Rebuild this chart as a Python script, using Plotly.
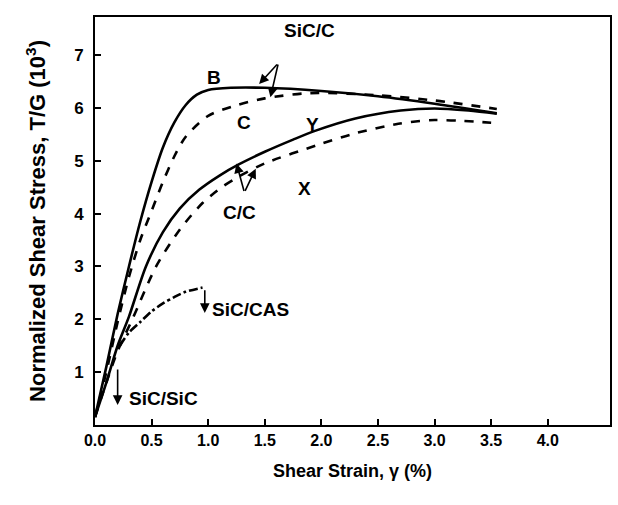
import plotly.graph_objects as go

# Curve B (solid)
b_x = [0.0, 0.1, 0.2, 0.3, 0.4, 0.5, 0.6, 0.7, 0.8, 0.9, 1.0, 1.2, 1.5, 2.0, 2.5, 3.0, 3.55]
b_y = [0.15, 1.1, 2.1, 3.0, 3.85, 4.6, 5.25, 5.72, 6.05, 6.25, 6.34, 6.38, 6.38, 6.32, 6.22, 6.08, 5.9]
# Curve C (dashed)
c_x = [0.0, 0.1, 0.2, 0.3, 0.4, 0.5, 0.6, 0.7, 0.8, 1.0, 1.25, 1.5, 1.9, 2.5, 3.0, 3.55]
c_y = [0.15, 1.0, 1.95, 2.8, 3.5, 4.05, 4.6, 5.08, 5.45, 5.85, 6.05, 6.18, 6.28, 6.24, 6.14, 5.98]
# Curve Y (solid)
y_x = [0.0, 0.1, 0.2, 0.3, 0.45, 0.6, 0.75, 0.92, 1.1, 1.27, 1.5, 1.75, 1.95, 2.3, 2.7, 3.0, 3.3, 3.55]
y_y = [0.15, 0.8, 1.5, 2.05, 3.0, 3.65, 4.1, 4.45, 4.72, 4.93, 5.17, 5.4, 5.57, 5.8, 5.95, 5.99, 5.95, 5.89]
# Curve X (dashed)
x_x = [0.0, 0.1, 0.2, 0.33, 0.54, 0.75, 0.95, 1.12, 1.27, 1.5, 1.97, 2.3, 2.68, 3.0, 3.5]
x_y = [0.15, 0.8, 1.4, 2.0, 3.0, 3.7, 4.2, 4.5, 4.7, 4.95, 5.3, 5.52, 5.7, 5.77, 5.72]
# SiC/CAS (dash-dot)
cas_x = [0.22, 0.3, 0.4, 0.5, 0.6, 0.7, 0.8, 0.95]
cas_y = [1.5, 1.75, 1.95, 2.15, 2.3, 2.42, 2.52, 2.6]

x_ticks = [0.0, 0.5, 1.0, 1.5, 2.0, 2.5, 3.0, 3.5, 4.0]
x_tick_labels = ["0.0", "0.5", "1.0", "1.5", "2.0", "2.5", "3.0", "3.5", "4.0"]
y_ticks = [1, 2, 3, 4, 5, 6, 7]

FONT = "Liberation Sans, Arial, sans-serif"

fig = go.Figure()
for xs, ys, dash in [(b_x, b_y, "solid"), (c_x, c_y, "dash"), (y_x, y_y, "solid"),
                     (x_x, x_y, "dash"), (cas_x, cas_y, "dashdot")]:
    fig.add_trace(go.Scatter(x=xs, y=ys, mode="lines",
                             line=dict(color="black", width=2.6, dash=dash, shape="spline", smoothing=0.8),
                             showlegend=False, hoverinfo="skip"))

labels = [
    ("B", 1.05, 6.58, "center"),
    ("C", 1.32, 5.73, "center"),
    ("Y", 1.92, 5.68, "center"),
    ("X", 1.85, 4.48, "center"),
    ("C/C", 1.28, 4.03, "center"),
    ("SiC/CAS", 1.02, 2.18, "left"),
    ("SiC/SiC", 0.28, 0.51, "left"),
    ("SiC/C", 1.65, 7.47, "left"),
]
for txt, lx, ly, anc in labels:
    fig.add_annotation(x=lx, y=ly, text=txt, showarrow=False, xanchor=anc, yanchor="middle",
                       font=dict(family=FONT, size=19, color="black", weight="bold"))

arrows = [
    (0.97, 2.12, 0.97, 2.58),
    (0.2, 0.38, 0.2, 1.08),
    (1.45, 6.45, 1.62, 6.85),
    (1.55, 6.2, 1.62, 6.85),
    (1.25, 4.95, 1.32, 4.4),
    (1.42, 4.85, 1.32, 4.4),
]
for hx, hy, tx, ty in arrows:
    fig.add_annotation(x=hx, y=hy, ax=tx, ay=ty, axref="x", ayref="y", xref="x", yref="y",
                       text="", showarrow=True, arrowhead=2, arrowsize=1.2, arrowwidth=1.6,
                       arrowcolor="black")

fig.update_layout(
    width=618, height=505,
    margin=dict(l=95, r=6, t=17, b=80),
    paper_bgcolor="white", plot_bgcolor="white",
    font=dict(family=FONT, size=16, color="black", weight="bold"),
    xaxis=dict(range=[0, 4.55], tickvals=x_ticks, ticktext=x_tick_labels,
               ticks="inside", ticklen=6, tickwidth=2, tickcolor="black",
               showline=True, linewidth=2, linecolor="black", mirror=True,
               showgrid=False, zeroline=False,
               tickfont=dict(size=16, weight="bold"),
               title=dict(text="Shear Strain, γ (%)", font=dict(size=18, weight="bold"), standoff=16)),
    yaxis=dict(range=[0, 7.72], tickvals=y_ticks,
               ticks="inside", ticklen=6, tickwidth=2, tickcolor="black",
               showline=True, linewidth=2, linecolor="black", mirror=True,
               showgrid=False, zeroline=False, ticklabelstandoff=6,
               tickfont=dict(size=17, weight="bold"),
               title=dict(text="Normalized Shear Stress, T/G (10<sup>3</sup>)",
                          font=dict(size=22, weight="bold"), standoff=22)),
)

fig.write_html("out.html")
